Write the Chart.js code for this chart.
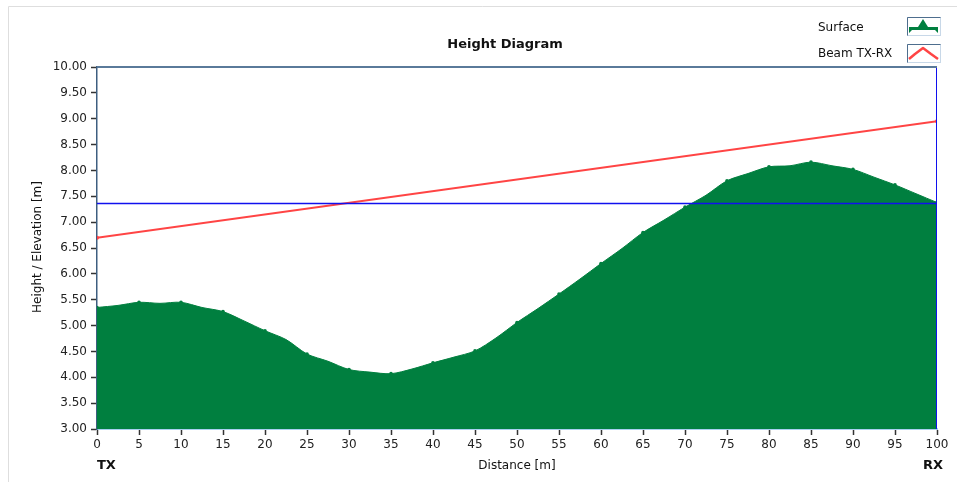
<!DOCTYPE html>
<html>
<head>
<meta charset="utf-8">
<script src="https://cdn.jsdelivr.net/npm/chart.js@4.4.1/dist/chart.umd.min.js"></script>
<style>
html,body{margin:0;padding:0;background:#fff;}
#wrap{position:relative;width:957px;height:482px;}
</style>
</head>
<body>
<div id="wrap"><canvas id="c" width="957" height="482"></canvas></div>
<script>
// ---- data ----
const distance = [0,2.5,5,7.5,10,12.5,15,17.5,20,22.5,25,27.5,30,32.5,35,37.5,40,42.5,45,47.5,50,52.5,55,57.5,60,62.5,65,67.5,70,72.5,75,77.5,80,82.5,85,87.5,90,92.5,95,97.5,100];
const surface  = [5.35,5.39,5.45,5.43,5.45,5.35,5.27,5.09,4.90,4.73,4.45,4.31,4.15,4.10,4.07,4.16,4.28,4.39,4.51,4.76,5.06,5.33,5.61,5.90,6.20,6.49,6.80,7.04,7.29,7.52,7.80,7.94,8.07,8.09,8.16,8.09,8.02,7.87,7.72,7.55,7.38];
const beamX = [0, 100];
const beamY = [6.70, 8.95];
const cursorY = 7.36;
const cursorX = 100;
const yMin = 3, yMax = 10, yStep = 0.5;
const xMin = 0, xMax = 100, xStep = 5;
const seriesNames = ["Surface", "Beam TX-RX"];
const titleText = "Height Diagram";
const xTitle = "Distance [m]";
const yTitle = "Height / Elevation [m]";
const endLabels = ["TX", "RX"];

const FONT = "'DejaVu Sans', sans-serif";
const GREEN = '#007f3f';
const RED = '#ff4444';
const BLUE = '#1010ee';

const surfacePts = distance.map((d, i) => ({x: d, y: surface[i]}));
const beamPts = beamX.map((d, i) => ({x: d, y: beamY[i]}));

const deco = {
  id: 'deco',
  beforeDraw(chart) {
    const ctx = chart.ctx;
    ctx.save();
    ctx.strokeStyle = '#dedede';
    ctx.lineWidth = 1;
    ctx.beginPath();
    ctx.moveTo(8.5, 482);
    ctx.lineTo(8.5, 6.5);
    ctx.lineTo(957, 6.5);
    ctx.stroke();
    ctx.restore();
  },
  afterDraw(chart) {
    const ctx = chart.ctx;
    const a = chart.chartArea;
    ctx.save();
    // top border of plot
    ctx.strokeStyle = '#5a7a9a';
    ctx.lineWidth = 2;
    ctx.beginPath();
    ctx.moveTo(a.left, a.top);
    ctx.lineTo(a.right, a.top);
    ctx.stroke();

    ctx.fillStyle = '#111';
    ctx.textBaseline = 'middle';
    // title
    ctx.font = 'bold 13px ' + FONT;
    ctx.textAlign = 'center';
    ctx.fillText(titleText, 505, 45);
    // x title
    ctx.font = '12px ' + FONT;
    ctx.fillText(xTitle, 517, 466);
    // TX / RX
    ctx.font = 'bold 13px ' + FONT;
    ctx.textAlign = 'left';
    ctx.fillText(endLabels[0], 97, 466);
    ctx.textAlign = 'right';
    ctx.fillText(endLabels[1], 943, 466);
    // y title
    ctx.save();
    ctx.translate(38, 247);
    ctx.rotate(-Math.PI / 2);
    ctx.textAlign = 'center';
    ctx.font = '12px ' + FONT;
    ctx.fillText(yTitle, 0, 0);
    ctx.restore();

    // legend
    ctx.font = '12px ' + FONT;
    ctx.textAlign = 'left';
    ctx.fillText(seriesNames[0], 818, 28);
    ctx.fillText(seriesNames[1], 818, 54);
    const boxes = [17, 44];
    boxes.forEach((by, i) => {
      const bx = 907, bw = 33, bh = 18;
      ctx.fillStyle = '#fff';
      ctx.fillRect(bx, by, bw, bh);
      ctx.lineWidth = 1;
      ctx.strokeStyle = '#c8d8e8';
      ctx.strokeRect(bx + 0.5, by + 0.5, bw, bh);
      ctx.strokeStyle = '#4e6e8e';
      ctx.beginPath();
      ctx.moveTo(bx + 0.5, by + bh + 0.5);
      ctx.lineTo(bx + 0.5, by + 0.5);
      ctx.lineTo(bx + bw + 0.5, by + 0.5);
      ctx.stroke();
      if (i === 0) {
        ctx.fillStyle = GREEN;
        ctx.beginPath();
        ctx.moveTo(909, by + 16);
        ctx.lineTo(909, by + 10);
        ctx.lineTo(918, by + 10);
        ctx.lineTo(923, by + 2);
        ctx.lineTo(928, by + 10);
        ctx.lineTo(938, by + 10);
        ctx.lineTo(938, by + 16);
        ctx.lineTo(935, by + 13);
        ctx.lineTo(912, by + 13);
        ctx.closePath();
        ctx.fill();
      } else {
        ctx.strokeStyle = RED;
        ctx.lineWidth = 2.5;
        ctx.lineJoin = 'round';
        ctx.beginPath();
        ctx.moveTo(909, by + 15);
        ctx.lineTo(915, by + 10);
        ctx.lineTo(923, by + 4);
        ctx.lineTo(931, by + 10);
        ctx.lineTo(938, by + 15);
        ctx.stroke();
      }
    });
    ctx.restore();
  }
};

new Chart(document.getElementById('c'), {
  type: 'line',
  data: {
    datasets: [
      {
        label: seriesNames[0],
        data: surfacePts,
        borderColor: GREEN,
        backgroundColor: GREEN,
        borderWidth: 1,
        fill: 'start',
        pointRadius: ctx => (ctx.raw && ctx.raw.x % 5 === 0 ? 1.8 : 0),
        pointBackgroundColor: GREEN,
        pointBorderWidth: 0,
        tension: 0.3,
        order: 3
      },
      {
        label: seriesNames[1],
        data: beamPts,
        borderColor: RED,
        backgroundColor: RED,
        borderWidth: 2,
        fill: false,
        pointRadius: 2,
        pointBorderWidth: 0,
        order: 2
      },
      {
        label: 'cursor-h',
        data: [{x: xMin, y: cursorY}, {x: xMax, y: cursorY}],
        borderColor: BLUE,
        borderWidth: 1.5,
        pointRadius: 0,
        fill: false,
        order: 1
      },
      {
        label: 'cursor-v',
        data: [{x: cursorX, y: yMin}, {x: cursorX, y: yMax}],
        borderColor: BLUE,
        borderWidth: 2,
        pointRadius: 0,
        fill: false,
        order: 1
      }
    ]
  },
  options: {
    responsive: false,
    animation: false,
    devicePixelRatio: 1,
    layout: {padding: {left: 0, top: 67, right: 20, bottom: 0}},
    plugins: {legend: {display: false}, title: {display: false}, tooltip: {enabled: false}},
    scales: {
      x: {
        type: 'linear',
        min: xMin, max: xMax,
        afterFit: s => { s.height = 53; },
        ticks: {stepSize: xStep, color: '#222', font: {family: FONT, size: 12}, padding: 3, maxRotation: 0, autoSkip: false},
        grid: {drawOnChartArea: false, drawTicks: true, tickLength: 6, color: '#333', tickWidth: 1.5},
        border: {color: '#a8d0f0', width: 2}
      },
      y: {
        min: yMin, max: yMax,
        afterFit: s => { s.width = 97; },
        ticks: {stepSize: yStep, color: '#222', font: {family: FONT, size: 12}, padding: 4,
          callback: v => Number(v).toFixed(2)},
        grid: {drawOnChartArea: false, drawTicks: true, tickLength: 6, color: '#333', tickWidth: 1.5},
        border: {color: '#3e5e80', width: 1.5}
      }
    }
  },
  plugins: [deco]
});
</script>
</body>
</html>
